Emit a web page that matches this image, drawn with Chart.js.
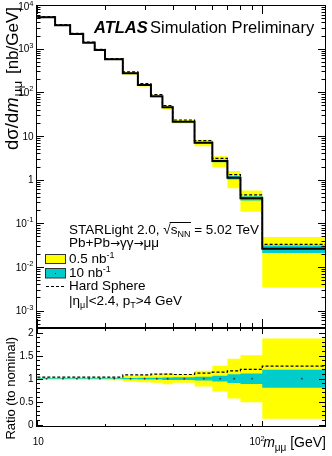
<!DOCTYPE html>
<html><head><meta charset="utf-8">
<script src="https://cdn.jsdelivr.net/npm/chart.js@4"></script>
<style>
html,body{margin:0;padding:0;background:#fff;}
#wrap{position:relative;width:332px;height:456px;background:#fff;}
canvas{position:absolute;left:0;top:0;}
</style></head><body>
<div id="wrap"><canvas id="main" width="332" height="456"></canvas><canvas id="ratio" width="332" height="456"></canvas></div>
<script>
// ---- data ----
const binEdges = [10, 12, 14, 16, 18, 20, 24, 28, 32, 36, 40, 50, 60, 70, 80, 100, 200];
const nominal = [5230, 3430, 2170, 1370, 930, 575, 273, 147, 81, 45.4, 21.3, 7.0, 2.68, 1.11, 0.375, 0.026];
const hardSphereRatio = [1.035, 1.035, 1.035, 1.035, 1.035, 1.035, 1.08, 1.08, 1.10, 1.10, 1.09, 1.12, 1.14, 1.17, 1.20, 1.27];
const yellowErr = [0.025, 0.025, 0.025, 0.025, 0.03, 0.035, 0.06, 0.08, 0.09, 0.12, 0.09, 0.17, 0.28, 0.43, 0.51, 0.87];
const tealErr = [0.006, 0.006, 0.006, 0.006, 0.007, 0.008, 0.013, 0.018, 0.02, 0.027, 0.03, 0.04, 0.063, 0.096, 0.114, 0.195];
const yTickExponents = [-3, -2, -1, 0, 1, 2, 3, 4];
const ratioTicks = [0, 0.5, 1, 1.5, 2];
const xTickLabels = [10, 100];
const legendLabels = ['0.5 nb', '10 nb', 'Hard Sphere'];

const YELLOW = '#ffff00', TEAL = '#00cccc';
const FONT = '"Liberation Sans", Arial, Helvetica, sans-serif';
function fnt(s, st, ff) { return (st ? st + ' ' : '') + s + 'px ' + (ff || FONT); }
function rich(ctx, x, y, segs, align, base) {
  base = base || 13; let w = 0;
  for (const g of segs) { ctx.font = fnt(g.s || base, g.st, g.ff); g._w = ctx.measureText(g.t).width + (g.gap || 0); w += g._w; }
  let cx = align === 'right' ? x - w : align === 'center' ? x - w / 2 : x;
  const pos = [];
  for (const g of segs) { ctx.font = fnt(g.s || base, g.st, g.ff); ctx.fillText(g.t, cx, y + (g.dy || 0)); pos.push([cx, cx + g._w]); cx += g._w; }
  return pos;
}
function stepPoints(vals) {
  const pts = vals.map((v, i) => ({ x: binEdges[i], y: v }));
  pts.push({ x: binEdges[binEdges.length - 1], y: vals[vals.length - 1] });
  return pts;
}
function band(vals, color, fill, order) {
  return { data: stepPoints(vals), stepped: true, borderWidth: 0, borderColor: 'rgba(0,0,0,0)',
    backgroundColor: color, fill: fill, pointRadius: 0, order: order, clip: 0 };
}
function frameTicks(chart, xLen, yTicks) {
  const { ctx, chartArea: a } = chart; const xs = chart.scales.x, ys = chart.scales.y;
  ctx.save(); ctx.strokeStyle = '#000'; ctx.lineWidth = 1;
  ctx.beginPath();
  for (let e = 1; e <= 2; e++) for (let m = 1; m <= 9; m++) {
    const v = m * Math.pow(10, e); const p = xs.getPixelForValue(v);
    if (p <= a.left + 1 || p >= a.right - 1) continue;
    const L = m === 1 ? xLen[1] : xLen[0]; const px = Math.round(p) + 0.5;
    ctx.moveTo(px, a.bottom); ctx.lineTo(px, a.bottom - L);
    ctx.moveTo(px, a.top); ctx.lineTo(px, a.top + L);
  }
  for (const t of yTicks) {
    const p = ys.getPixelForValue(t.v); if (p < a.top - 0.5 || p > a.bottom + 0.5) continue;
    const py = Math.round(p) + 0.5;
    ctx.moveTo(a.left, py); ctx.lineTo(a.left + t.len, py);
    ctx.moveTo(a.right, py); ctx.lineTo(a.right - t.len, py);
  }
  ctx.stroke();
  ctx.strokeRect(a.left + 0.5, a.top + 0.5, a.right - a.left - 1, a.bottom - a.top - 1);
  ctx.restore();
}

const common = {
  responsive: false, animation: false, devicePixelRatio: 1, events: [],
  plugins: { legend: { display: false }, tooltip: { enabled: false } },
  elements: { line: { tension: 0 } }
};

// ---- main panel ----
const mainPlugin = {
  id: 'mainDecor',
  afterDraw(chart) {
    const ctx = chart.ctx; const ys = chart.scales.y;
    const yt = [];
    for (let e = -4; e <= 4; e++) for (let m = 1; m <= 9; m++) yt.push({ v: m * Math.pow(10, e), len: m === 1 ? 8 : 4.5 });
    frameTicks(chart, [5, 9], yt);
    ctx.save(); ctx.fillStyle = '#000'; ctx.textBaseline = 'alphabetic';
    for (const e of yTickExponents) {
      const py = ys.getPixelForValue(Math.pow(10, e)) + 3.6 + (e === 4 ? 1.5 : 0);
      const segs = e === 0 ? [{ t: '1' }] : e === 1 ? [{ t: '10' }] : [{ t: '10' }, { t: String(e), s: 7.5, dy: -4.5 }];
      rich(ctx, 33.5, py, segs, 'right', 10);
    }
    // y title
    ctx.save(); ctx.translate(18, 7); ctx.rotate(-Math.PI / 2);
    rich(ctx, 0, 0, [{ t: 'dσ/d', s: 18.5 }, { t: 'm', st: 'italic', s: 18.5, gap: 1 }, { t: 'μμ', s: 13.5, dy: 4, gap: 2 }, { t: ' [nb/GeV]' }], 'right', 17);
    ctx.restore();
    // ATLAS label
    rich(ctx, 94, 33, [{ t: 'ATLAS', st: 'italic bold' }], 'left', 16.5);
    rich(ctx, 150, 33, [{ t: 'Simulation Preliminary' }], 'left', 16.5);
    // legend block
    const lx = 69, fs = 13.5, AR = '"DejaVu Sans", sans-serif';
    const p = rich(ctx, lx, 233.5, [{ t: 'STARLight 2.0, ' }, { t: '√' }, { t: 's' }, { t: 'NN', s: 9, dy: 3 }, { t: ' = 5.02 TeV' }], 'left', fs);
    ctx.lineWidth = 1; ctx.strokeStyle = '#000'; ctx.beginPath();
    ctx.moveTo(p[1][1] - 1, 222.5); ctx.lineTo(p[3][1] + 0.5, 222.5); ctx.stroke();
    rich(ctx, lx, 247, [{ t: 'Pb+Pb' }, { t: '→', ff: AR, s: 12 }, { t: 'γγ' }, { t: '→', ff: AR, s: 12 }, { t: 'μμ' }], 'left', fs);
    rich(ctx, lx, 263, [{ t: legendLabels[0] }, { t: '-1', s: 9, dy: -5 }], 'left', fs);
    rich(ctx, lx, 276.5, [{ t: legendLabels[1] }, { t: '-1', s: 9, dy: -5 }], 'left', fs);
    rich(ctx, lx, 290, [{ t: legendLabels[2] }], 'left', fs);
    rich(ctx, lx, 305, [{ t: '|η' }, { t: 'μ', s: 9, dy: 3 }, { t: '|<2.4, p' }, { t: 'T', s: 9, dy: 3 }, { t: '>4 GeV' }], 'left', fs);
    // legend symbols
    ctx.fillStyle = YELLOW; ctx.fillRect(45.5, 254.5, 20, 9);
    ctx.fillStyle = TEAL; ctx.fillRect(45.5, 268.5, 20, 9.5);
    ctx.strokeStyle = '#333'; ctx.lineWidth = 1;
    ctx.strokeRect(45.5, 254.5, 20, 9); ctx.strokeRect(45.5, 268.5, 20, 9.5);
    ctx.fillStyle = '#333'; ctx.fillRect(55, 273, 1, 1);
    ctx.strokeStyle = '#000'; ctx.setLineDash([3, 2]); ctx.beginPath();
    ctx.moveTo(46, 286.5); ctx.lineTo(66, 286.5); ctx.stroke(); ctx.setLineDash([]);
    ctx.restore();
  }
};

new Chart(document.getElementById('main'), {
  type: 'line',
  data: {
    datasets: [
      band(nominal.map((v, i) => v * (1 + yellowErr[i])), YELLOW, '+1', 4),
      band(nominal.map((v, i) => v * (1 - yellowErr[i])), YELLOW, false, 4),
      band(nominal.map((v, i) => v * (1 + tealErr[i])), TEAL, '+1', 3),
      band(nominal.map((v, i) => v * (1 - tealErr[i])), TEAL, false, 3),
      { data: stepPoints(nominal.map((v, i) => v * hardSphereRatio[i])), stepped: true, borderColor: '#000', borderWidth: 1.2,
        borderDash: [3, 2], pointRadius: 0, fill: false, order: 2, clip: 0 },
      { data: stepPoints(nominal), stepped: true, borderColor: '#000', borderWidth: 2, pointRadius: 0, fill: false, order: 1, clip: 0 }
    ]
  },
  options: Object.assign({}, common, {
    layout: { padding: { left: 36, right: 6, top: 5, bottom: 128 } },
    scales: {
      x: { type: 'logarithmic', min: 9.87, max: 192, display: false },
      y: { type: 'logarithmic', min: 4e-4, max: 1e4, display: false }
    }
  }),
  plugins: [mainPlugin]
});

// ---- ratio panel ----
const ratioPlugin = {
  id: 'ratioDecor',
  afterDraw(chart) {
    const ctx = chart.ctx; const ys = chart.scales.y, xs = chart.scales.x;
    const yt = [];
    for (let i = 0; i <= 21; i++) yt.push({ v: i / 10, len: i % 5 === 0 ? 7 : 4 });
    frameTicks(chart, [3, 6], yt);
    ctx.save(); ctx.fillStyle = '#000'; ctx.textBaseline = 'alphabetic';
    for (const v of ratioTicks) rich(ctx, 33.5, ys.getPixelForValue(v) + 3.6, [{ t: String(v) }], 'right', 10);
    for (const v of xTickLabels) {
      const px = xs.getPixelForValue(v);
      if (v === 10) rich(ctx, px + 1, 445, [{ t: '10' }], 'center', 10);
      else rich(ctx, px + 2.5, 445, [{ t: '10' }, { t: '2', s: 7.5, dy: -4.5 }], 'right', 10);
    }
    ctx.save(); ctx.translate(14.5, 337); ctx.rotate(-Math.PI / 2);
    rich(ctx, 0, 0, [{ t: 'Ratio (to nominal)' }], 'right', 13);
    ctx.restore();
    rich(ctx, 326, 447, [{ t: 'm', st: 'italic' }, { t: 'μμ', s: 10, dy: 3.5 }, { t: ' [GeV]' }], 'right', 14);
    ctx.restore();
  }
};

const ones = nominal.map(() => 1);
new Chart(document.getElementById('ratio'), {
  type: 'line',
  data: {
    datasets: [
      band(yellowErr.map(e => 1 + e), YELLOW, '+1', 4),
      band(yellowErr.map(e => 1 - e), YELLOW, false, 4),
      band(tealErr.map(e => 1 + e), TEAL, '+1', 3),
      band(tealErr.map(e => 1 - e), TEAL, false, 3),
      { data: stepPoints(hardSphereRatio), stepped: true, borderColor: '#000', borderWidth: 1.2,
        borderDash: [3, 2], pointRadius: 0, fill: false, order: 2, clip: 0 },
      { data: ones.map((v, i) => ({ x: (binEdges[i] + binEdges[i + 1]) / 2, y: v })), showLine: false,
        pointRadius: 0.9, pointBorderWidth: 0, pointBackgroundColor: '#333', order: 1, clip: 0 }
    ]
  },
  options: Object.assign({}, common, {
    layout: { padding: { left: 36, right: 6, top: 328, bottom: 29 } },
    scales: {
      x: { type: 'logarithmic', min: 9.87, max: 192, display: false },
      y: { type: 'linear', min: -0.05, max: 2.1, display: false }
    }
  }),
  plugins: [ratioPlugin]
});
</script>
</body></html>
